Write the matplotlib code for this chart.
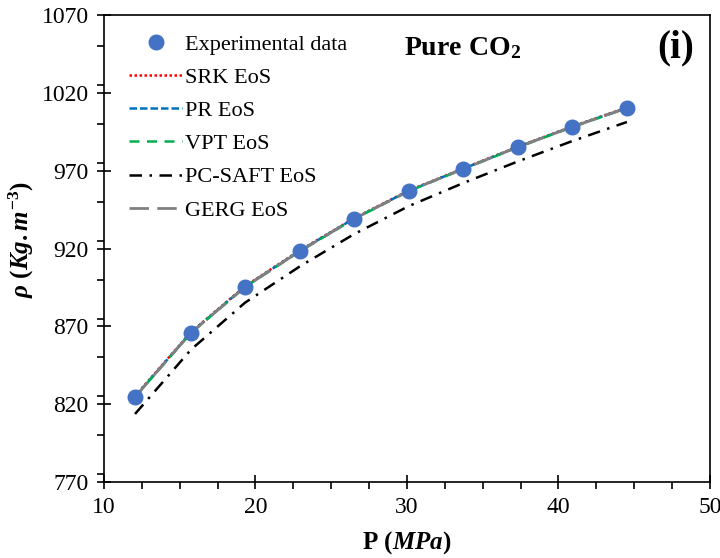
import matplotlib.pyplot as plt
from matplotlib.ticker import MultipleLocator

plt.rcParams['font.family'] = 'Liberation Serif'
plt.rcParams['mathtext.fontset'] = 'custom'
plt.rcParams['mathtext.rm'] = 'Liberation Serif:bold'
plt.rcParams['mathtext.bf'] = 'Liberation Serif:bold'
plt.rcParams['mathtext.it'] = 'Liberation Serif:italic:bold'

# Pressure (MPa) and density (kg/m3) of pure CO2
pressure = [12.05, 15.74, 19.31, 22.94, 26.5, 30.13, 33.7, 37.33, 40.9, 44.52]
rho_exp = [824.7, 865.8, 895.3, 918.4, 939.0, 957.0, 971.1, 985.2, 998.1, 1010.3]
rho_srk = [825.2, 866.3, 895.8, 918.9, 939.4, 957.3, 971.4, 985.5, 998.4, 1010.6]
rho_pr = [824.9, 866.0, 895.5, 918.6, 939.2, 957.1, 971.2, 985.3, 998.2, 1010.4]
rho_vpt = [824.6, 865.7, 895.2, 918.3, 938.9, 956.9, 971.0, 985.1, 998.0, 1010.2]
rho_pcsaft = [813.7, 855.0, 885.2, 908.6, 929.2, 947.3, 962.0, 976.0, 989.0, 1001.3]
rho_gerg = [824.7, 865.8, 895.3, 918.4, 939.0, 957.0, 971.1, 985.2, 998.1, 1010.3]

x_ticks = [10, 20, 30, 40, 50]
y_ticks = [770, 820, 870, 920, 970, 1020, 1070]

fig = plt.figure(figsize=(7.2, 5.58), dpi=100)
ax = fig.add_axes([0.1444, 0.1362, 0.8416, 0.8368])

ax.plot(pressure, rho_exp, 'o', color='#4472C4', markersize=10.5,
        label='Experimental data', zorder=5)
ax.plot(pressure, rho_srk, color='#FF0000', linestyle=(0, (1, 1)), lw=1.8,
        label='SRK EoS')
ax.plot(pressure, rho_pr, color='#0070C0', linestyle=(0, (3, 1.2)), lw=1.8,
        label='PR EoS')
ax.plot(pressure, rho_vpt, color='#00B050', linestyle=(0, (4, 3)), lw=1.8,
        label='VPT EoS')
ax.plot(pressure, rho_pcsaft, color='black', linestyle=(0, (5, 3, 1, 3)), lw=1.8,
        label='PC-SAFT EoS')
ax.plot(pressure, rho_gerg, color='#808080', linestyle=(0, (7, 3)), lw=2.0,
        label='GERG EoS')

ax.set_xlim(10, 50)
ax.set_ylim(770, 1070)
ax.set_xticks(x_ticks)
ax.set_yticks(y_ticks)
ax.xaxis.set_minor_locator(MultipleLocator(2.5))
ax.yaxis.set_minor_locator(MultipleLocator(25))
ax.tick_params(which='major', direction='inout', length=10, width=1.2,
               labelsize=17, pad=6)
ax.tick_params(which='minor', direction='out', length=5, width=1.2)
for s in ax.spines.values():
    s.set_linewidth(1.2)

ax.set_xlabel(r'$\mathbf{P}\ \mathit{(MPa)}$', fontsize=18)
ax.xaxis.set_label_coords(0.5, -0.1)
ax.set_ylabel(r'$\mathit{\rho\ (Kg.m^{-3})}$', fontsize=18)
ax.yaxis.set_label_coords(-0.112, 0.52)

ax.text(0.495, 0.93, r'$\mathbf{Pure\ CO_2}$', transform=ax.transAxes,
        fontsize=20, ha='left', va='center')
ax.text(0.974, 0.93, '(i)', transform=ax.transAxes, fontsize=28,
        fontweight='bold', ha='right', va='center')

ax.legend(loc='upper left', frameon=False, fontsize=16, handlelength=2.4,
          handletextpad=0.12, labelspacing=0.57, borderaxespad=0.45,
          bbox_to_anchor=(0.01, 1.0))

fig.savefig('out.png', dpi=100)
